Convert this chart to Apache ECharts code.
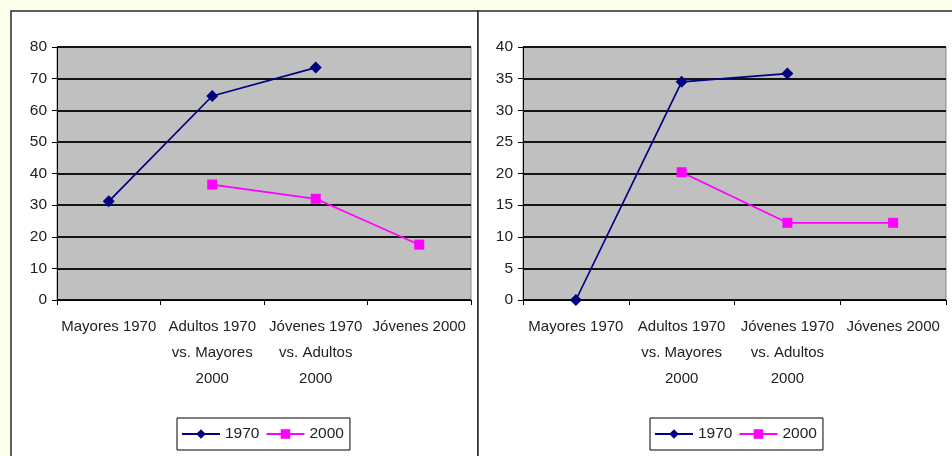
<!DOCTYPE html>
<html>
<head>
<meta charset="utf-8">
<script src="https://cdn.jsdelivr.net/npm/echarts@6/dist/echarts.min.js"></script>
<style>
html,body{margin:0;padding:0;background:#fefeec;}
#c{width:952px;height:456px;}
</style>
</head>
<body>
<div id="c"></div>
<script>
const categories = ['Mayores 1970', 'Adultos 1970\nvs. Mayores\n2000', 'Jóvenes 1970\nvs. Adultos\n2000', 'Jóvenes 2000'];
const seriesNames = ['1970', '2000'];
const left1970 = [31.2, 64.5, 73.5, null];
const left2000 = [null, 36.5, 32.0, 17.5];
const right1970 = [0, 34.5, 35.8, null];
const right2000 = [null, 20.2, 12.2, 12.2];
const leftYMax = 80, leftYInterval = 10;
const rightYMax = 40, rightYInterval = 5;

const FONT = 'Liberation Sans, Arial, sans-serif';
const C1970 = '#000080';
const C2000 = '#ff00ff';

function toData(a){ return a.map(v => v === null ? '-' : v); }

function xAxis(idx){
  return {
    type: 'category', gridIndex: idx, data: categories, boundaryGap: true,
    axisLine: {show: true, lineStyle: {color: '#000', width: 1}},
    axisTick: {show: true, inside: false, length: 5, interval: 0, lineStyle: {color: '#000'}},
    axisLabel: {interval: 0, color: '#222', fontFamily: FONT, fontSize: 15, lineHeight: 26, margin: 14},
    splitLine: {show: false}
  };
}
function yAxis(idx, max, interval){
  return {
    type: 'value', gridIndex: idx, min: 0, max: max, interval: interval,
    axisLine: {show: true, lineStyle: {color: '#000', width: 1}},
    axisTick: {show: true, inside: false, length: 5, lineStyle: {color: '#000'}},
    axisLabel: {color: '#222', fontFamily: FONT, fontSize: 15.5, margin: 10},
    splitLine: {show: true, lineStyle: {color: '#141414', width: 1.8}}
  };
}
function lineSeries(name, data, idx, color, symbol, size){
  return {
    name: name, type: 'line', xAxisIndex: idx, yAxisIndex: idx, data: toData(data),
    symbol: symbol, symbolSize: size, showSymbol: true, connectNulls: false,
    lineStyle: {color: color, width: 1.7}, itemStyle: {color: color},
    emphasis: {disabled: true}, animation: false
  };
}
function legend(left){
  return {
    show: true, left: left, top: 418, orient: 'horizontal',
    data: seriesNames, itemWidth: 38, itemHeight: 12, itemGap: 6,
    padding: [8, 6, 8, 4], borderColor: '#000', borderWidth: 1, backgroundColor: '#fff',
    textStyle: {color: '#222', fontFamily: FONT, fontSize: 15.5}, selectedMode: false
  };
}

const chart = echarts.init(document.getElementById('c'), null, {renderer: 'canvas'});
chart.setOption({
  backgroundColor: '#fefeec',
  animation: false,
  graphic: [
    {type: 'rect', z: -10, shape: {x: 11, y: 11, width: 467, height: 470}, style: {fill: '#fff', stroke: '#2a2a2a', lineWidth: 1.5}},
    {type: 'rect', z: -10, shape: {x: 478, y: 11, width: 490, height: 470}, style: {fill: '#fff', stroke: '#2a2a2a', lineWidth: 1.5}}
  ],
  grid: [
    {left: 57, top: 47, width: 414, height: 253, show: true, backgroundColor: '#c0c0c0', borderColor: '#8a8a8a', borderWidth: 1},
    {left: 523, top: 47, width: 423, height: 253, show: true, backgroundColor: '#c0c0c0', borderColor: '#8a8a8a', borderWidth: 1}
  ],
  xAxis: [xAxis(0), xAxis(1)],
  yAxis: [yAxis(0, leftYMax, leftYInterval), yAxis(1, rightYMax, rightYInterval)],
  legend: [legend(177), legend(650)],
  series: [
    lineSeries(seriesNames[0], left1970, 0, C1970, 'diamond', 12),
    lineSeries(seriesNames[1], left2000, 0, C2000, 'rect', 10),
    lineSeries(seriesNames[0], right1970, 1, C1970, 'diamond', 12),
    lineSeries(seriesNames[1], right2000, 1, C2000, 'rect', 10)
  ]
});
</script>
</body>
</html>
